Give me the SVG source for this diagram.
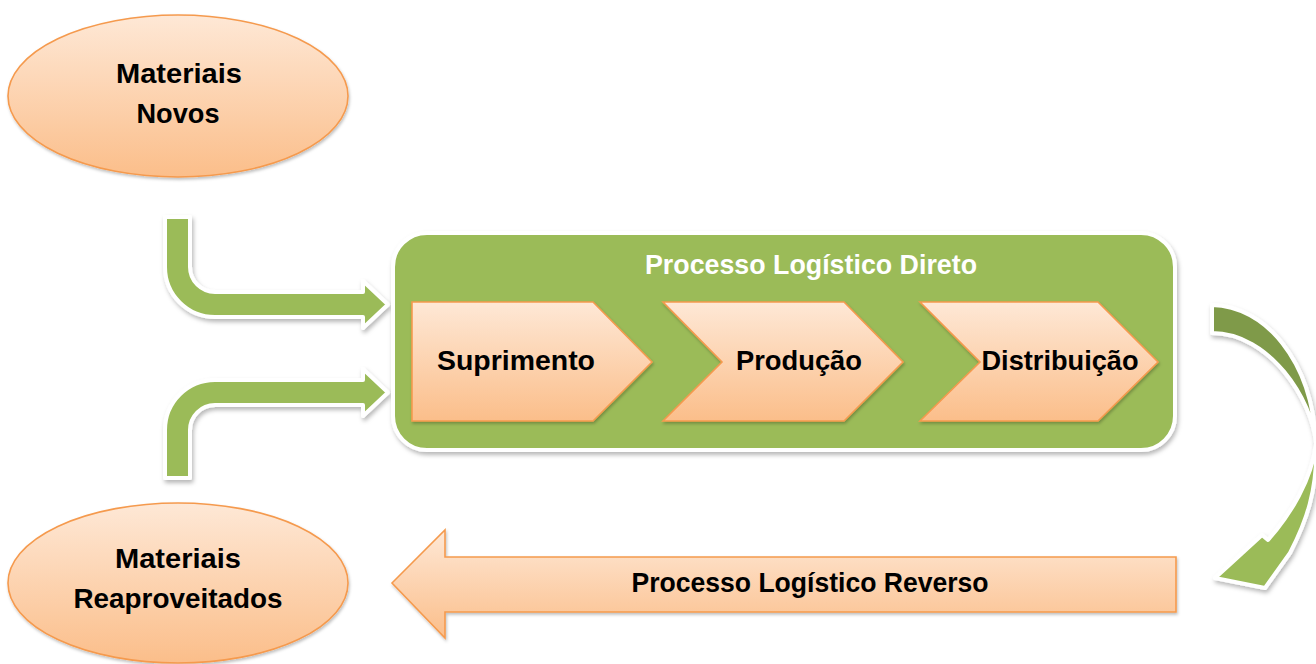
<svg xmlns="http://www.w3.org/2000/svg" width="1316" height="664" viewBox="0 0 1316 664">
<defs>
<linearGradient id="og" x1="0" y1="0" x2="0" y2="1">
<stop offset="0" stop-color="#FEE8D6"/>
<stop offset="1" stop-color="#FBBE8A"/>
</linearGradient>
<filter id="sh" x="-10%" y="-10%" width="125%" height="130%">
<feDropShadow dx="1.5" dy="3" stdDeviation="2" flood-color="#000" flood-opacity="0.28"/>
</filter>
<filter id="sh2" x="-10%" y="-10%" width="125%" height="130%">
<feDropShadow dx="1" dy="2" stdDeviation="1.5" flood-color="#000" flood-opacity="0.25"/>
</filter>
</defs>
<style>
.orange{fill:url(#og);stroke:#F59A4E;stroke-width:1.6;filter:url(#sh2)}
.green{fill:#9BBB59;stroke:#FFFFFF;stroke-width:4;stroke-linejoin:round;filter:url(#sh)}
.dark{fill:#7F9A48;stroke:#FFFFFF;stroke-width:4;stroke-linejoin:round;filter:url(#sh)}
.lbl{font-family:"Liberation Sans",Arial,sans-serif;font-weight:bold;font-size:28px;fill:#000;text-anchor:middle}
.wlbl{font-family:"Liberation Sans",Arial,sans-serif;font-weight:bold;font-size:27px;fill:#FFFFFF;text-anchor:middle}
</style>
<rect width="1316" height="664" fill="#FFFFFF"/>

<g id="connectors">
<path id="arrow-novos" class="green" d="M165,217 L190,217 L190,267 A25,25 0 0 0 215,292 L363,292 L363,281 L388,304.5 L363,328 L363,317 L215,317 A50,50 0 0 1 165,267 Z"/>
<path id="arrow-reaproveitados" class="green" d="M165,478 L165,430 A50,50 0 0 1 215,380 L363,380 L363,369 L388,392.5 L363,416 L363,405 L215,405 A25,25 0 0 0 190,430 L190,478 Z"/>
<g id="arrow-curved">
<path class="dark" d="M1212,305 C1265,306 1312,360 1316,443 C1312,400 1270,333 1212,333 Z"/>
<path class="green" d="M1316,443 C1318,490 1306,522 1290,553 L1265,588 L1215,578 L1262,535 L1268,540 C1290,515 1312,480 1316,443 Z"/>
</g>
</g>

<g id="node-materiais-novos">
<ellipse class="orange" cx="178" cy="96" rx="170" ry="81"/>
<text class="lbl" x="179" y="83" textLength="126" lengthAdjust="spacingAndGlyphs">Materiais</text>
<text class="lbl" x="178" y="123" textLength="83" lengthAdjust="spacingAndGlyphs">Novos</text>
</g>

<g id="node-materiais-reaproveitados">
<ellipse class="orange" cx="178" cy="583" rx="170" ry="80"/>
<text class="lbl" x="178" y="568" textLength="126" lengthAdjust="spacingAndGlyphs">Materiais</text>
<text class="lbl" x="178" y="608" textLength="209" lengthAdjust="spacingAndGlyphs">Reaproveitados</text>
</g>

<g id="node-processo-direto">
<rect class="green" x="393" y="233" width="782" height="217" rx="34" ry="34"/>
<text class="wlbl" x="811" y="274" textLength="332" lengthAdjust="spacingAndGlyphs">Processo Logístico Direto</text>
</g>

<g id="node-suprimento">
<path class="orange" d="M412,302 L593,302 L652,362 L593,421 L412,421 Z"/>
<text class="lbl" x="516" y="370" textLength="158" lengthAdjust="spacingAndGlyphs">Suprimento</text>
</g>

<g id="node-producao">
<path class="orange" d="M663,302 L844,302 L903,362 L844,421 L663,421 L722,362 Z"/>
<text class="lbl" x="799" y="370" textLength="126" lengthAdjust="spacingAndGlyphs">Produção</text>
</g>

<g id="node-distribuicao">
<path class="orange" d="M920,302 L1098,302 L1158,362 L1098,421 L920,421 L980,362 Z"/>
<text class="lbl" x="1060" y="370" textLength="157" lengthAdjust="spacingAndGlyphs">Distribuição</text>
</g>

<g id="node-processo-reverso">
<path class="orange" d="M392,583 L445,530 L445,557 L1176,557 L1176,612 L445,612 L445,638 Z"/>
<text class="lbl" x="810" y="592" font-size="27" textLength="357" lengthAdjust="spacingAndGlyphs">Processo Logístico Reverso</text>
</g>
</svg>
